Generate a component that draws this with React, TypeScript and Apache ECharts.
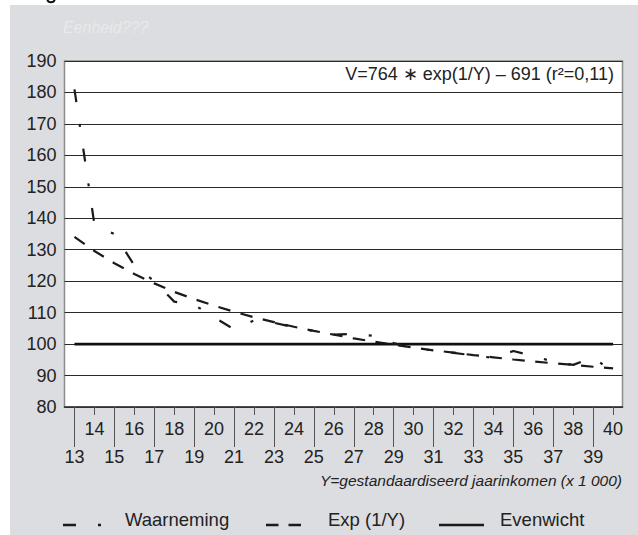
import React, { useEffect, useRef } from "react";
import * as echarts from "echarts";

const years = [13, 14, 15, 16, 17, 18, 19, 20, 21, 22, 23, 24, 25, 26, 27, 28, 29, 30, 31, 32, 33, 34, 35, 36, 37, 38, 39, 40];
const oddYears = [13, 15, 17, 19, 21, 23, 25, 27, 29, 31, 33, 35, 37, 39];
const evenYears = [14, 16, 18, 20, 22, 24, 26, 28, 30, 32, 34, 36, 38, 40];
const observed = [181, 138, 135, 125, 120, 113.5, 112.5, 108.5, 104.7, 107.5, 106.8, 105.3, 104.2, 103, 103.3, 102.6, 100.3, 98.6, 98, 97.2, 96.4, 95.6, 97.8, 96.2, 94.4, 93.4, 95.8, 91];
const fitted = [134.1, 129.6, 125.7, 122.3, 119.3, 116.6, 114.3, 112.2, 110.3, 108.5, 107, 105.5, 104.2, 103, 101.8, 100.8, 99.8, 98.9, 98, 97.3, 96.5, 95.8, 95.1, 94.5, 93.9, 93.4, 92.8, 92.3];
const equilibriumYears = [13, 40];
const equilibriumValue = 100;
const yMin = 80;
const yMax = 190;
const yStep = 10;

const FONT = '"Liberation Sans", Arial, Helvetica, sans-serif';

export default function App() {
  const ref = useRef<HTMLDivElement>(null);
  useEffect(() => {
    document.body.style.margin = "0";
    const chart = echarts.init(ref.current as HTMLDivElement, null, { renderer: "svg" });
    const xMin = 12.5;
    const xMax = 40.47;
    chart.setOption({
      animation: false,
      backgroundColor: "transparent",
      grid: {
        left: 64.5,
        right: 15.5,
        top: 61,
        bottom: 128,
        show: true,
        backgroundColor: "#ffffff",
        borderColor: "#8c8c8c",
        borderWidth: 1.5,
      },
      xAxis: [
        {
          type: "value",
          min: xMin,
          max: xMax,
          position: "bottom",
          axisLine: { show: true, onZero: false, lineStyle: { color: "#333", width: 1.5 } },
          axisTick: { show: true, customValues: oddYears, length: 40, lineStyle: { color: "#555", width: 1 } },
          axisLabel: { customValues: oddYears, margin: 41, fontSize: 18, color: "#222", fontFamily: FONT },
          splitLine: { show: false },
        },
        {
          type: "value",
          min: xMin,
          max: xMax,
          position: "bottom",
          offset: 0,
          axisLine: { show: false, onZero: false },
          axisTick: { show: true, customValues: evenYears, length: 8, lineStyle: { color: "#555", width: 1 } },
          axisLabel: { customValues: evenYears, margin: 13, fontSize: 18, color: "#222", fontFamily: FONT },
          splitLine: { show: false },
        },
      ],
      yAxis: {
        type: "value",
        min: yMin,
        max: yMax,
        interval: yStep,
        axisLine: { show: false },
        axisTick: { show: false },
        axisLabel: { fontSize: 18, color: "#222", fontFamily: FONT, margin: 8 },
        splitLine: { show: true, lineStyle: { color: "#2a2a2a", width: 1 } },
      },
      series: [
        {
          name: "Waarneming",
          type: "line",
          xAxisIndex: 0,
          data: years.map((y, i) => [y, observed[i]]),
          showSymbol: false,
          symbol: "none",
          silent: true,
          lineStyle: { color: "#1a1a1a", width: 2.2, type: [13, 22, 3, 22], cap: "butt" },
          z: 4,
        },
        {
          name: "Exp (1/Y)",
          type: "line",
          xAxisIndex: 0,
          data: years.map((y, i) => [y, fitted[i]]),
          showSymbol: false,
          symbol: "none",
          silent: true,
          lineStyle: { color: "#1a1a1a", width: 2.2, type: [12.5, 10.5], cap: "butt" },
          z: 3,
        },
        {
          name: "Evenwicht",
          type: "line",
          xAxisIndex: 0,
          data: equilibriumYears.map((y) => [y, equilibriumValue]),
          showSymbol: false,
          symbol: "none",
          silent: true,
          lineStyle: { color: "#111", width: 2.8, type: "solid" },
          z: 3,
        },
      ],
      graphic: [
        {
          type: "arc",
          shape: { cx: 51, cy: -1.5, r: 3.8, startAngle: 0.15, endAngle: Math.PI - 0.15 },
          style: { stroke: "#111", lineWidth: 2, fill: "none" },
        },
        {
          type: "text",
          style: { text: "Eenheid???", x: 63, y: 27, fill: "#e9e9eb", fontSize: 16, fontStyle: "italic", fontFamily: FONT, verticalAlign: "middle", align: "left" },
        },
        {
          type: "text",
          z: 10,
          style: { text: "V=764 \u2217 exp(1/Y) \u2013 691 (r\u00b2=0,11)", x: 614, y: 74, fill: "#222", fontSize: 18, fontFamily: FONT, verticalAlign: "middle", align: "right" },
        },
        {
          type: "text",
          style: { text: "Y=gestandaardiseerd jaarinkomen (x 1 000)", x: 622, y: 480, fill: "#222", fontSize: 15.5, fontStyle: "italic", fontFamily: FONT, verticalAlign: "middle", align: "right" },
        },
        {
          type: "polyline",
          shape: { points: [[63, 525], [101, 525]] },
          style: { stroke: "#1a1a1a", lineWidth: 2.5, lineDash: [13, 22, 3, 22], fill: "none" },
        },
        {
          type: "text",
          style: { text: "Waarneming", x: 125, y: 519, fill: "#222", fontSize: 18.5, fontFamily: FONT, verticalAlign: "middle", align: "left" },
        },
        {
          type: "polyline",
          shape: { points: [[266, 525], [301, 525]] },
          style: { stroke: "#1a1a1a", lineWidth: 2.5, lineDash: [12.5, 10], fill: "none" },
        },
        {
          type: "text",
          style: { text: "Exp (1/Y)", x: 328, y: 519, fill: "#222", fontSize: 18.5, fontFamily: FONT, verticalAlign: "middle", align: "left" },
        },
        {
          type: "line",
          shape: { x1: 439, y1: 525, x2: 484, y2: 525 },
          style: { stroke: "#1a1a1a", lineWidth: 2.5 },
        },
        {
          type: "text",
          style: { text: "Evenwicht", x: 500, y: 519, fill: "#222", fontSize: 18.5, fontFamily: FONT, verticalAlign: "middle", align: "left" },
        },
      ],
    });
    return () => chart.dispose();
  }, []);
  return (
    <div style={{ position: "relative", width: 638, height: 535, background: "#ffffff", overflow: "hidden" }}>
      <div style={{ position: "absolute", left: 10, top: 5, right: 0, bottom: 0, background: "#dcdde0" }} />
      <div ref={ref} style={{ position: "absolute", left: 0, top: 0, width: 638, height: 535 }} />
    </div>
  );
}
